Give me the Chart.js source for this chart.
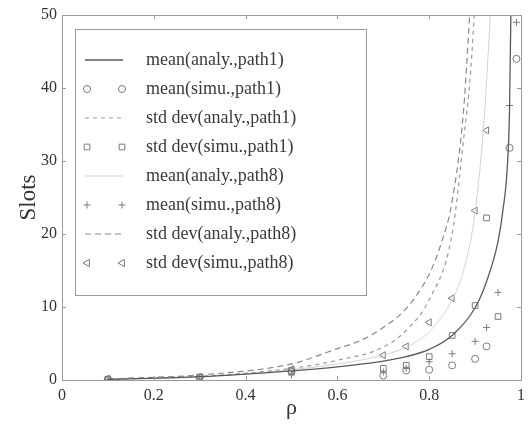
<!DOCTYPE html>
<html>
<head>
<meta charset="utf-8">
<script src="https://cdn.jsdelivr.net/npm/chart.js@4.4.1/dist/chart.umd.min.js"></script>
<style>
  html, body { margin: 0; padding: 0; background: #fff; }
  #wrap { width: 531px; height: 430px; }
</style>
</head>
<body>
<div id="wrap"><canvas id="chart" width="531" height="430"></canvas></div>
<script>
// analytic curves (rho -> slots)
const rhoMeanAnaly1 = [0.1, 0.3, 0.5, 0.6, 0.7, 0.75, 0.8, 0.85, 0.9, 0.925, 0.95, 0.96, 0.97, 0.975, 0.98];
const meanAnaly1    = [0.1, 0.45, 1.25, 1.8, 2.6, 3.2, 4.2, 6.1, 9.9, 13.5, 19, 23, 29, 37, 60];

const rhoStdAnaly1 = [0.1, 0.3, 0.5, 0.6, 0.7, 0.75, 0.8, 0.85, 0.875, 0.89, 0.9];
const stdAnaly1    = [0.1, 0.5, 1.6, 2.7, 4.5, 6.8, 11, 20, 33, 42, 52];

const rhoMeanAnaly8 = [0.1, 0.3, 0.5, 0.6, 0.7, 0.75, 0.8, 0.85, 0.875, 0.9, 0.92, 0.935];
const meanAnaly8    = [0.1, 0.4, 1.4, 2.2, 3.4, 4.5, 6.6, 11, 15, 23, 36, 52];

const rhoStdAnaly8 = [0.1, 0.3, 0.5, 0.6, 0.65, 0.7, 0.75, 0.8, 0.825, 0.85, 0.875, 0.89];
const stdAnaly8    = [0.15, 0.7, 2.2, 4.3, 5.4, 7.2, 9.8, 14.5, 18.5, 24.5, 37, 52];

// simulation points
const rhoMeanSim1 = [0.1, 0.3, 0.5, 0.7, 0.75, 0.8, 0.85, 0.9, 0.925, 0.975, 0.99];
const meanSim1    = [0.1, 0.35, 1.1, 0.6, 1.3, 1.4, 2.0, 2.9, 4.6, 31.8, 44];

const rhoStdSim1 = [0.1, 0.3, 0.5, 0.7, 0.75, 0.8, 0.85, 0.9, 0.925, 0.95];
const stdSim1    = [0.1, 0.4, 1.3, 1.6, 2.0, 3.2, 6.1, 10.2, 22.2, 8.7];

const rhoMeanSim8 = [0.1, 0.3, 0.5, 0.7, 0.75, 0.8, 0.85, 0.9, 0.925, 0.95, 0.975, 0.99];
const meanSim8    = [0.1, 0.3, 0.7, 1.1, 1.6, 2.5, 3.6, 5.3, 7.2, 12.0, 37.6, 49];

const rhoStdSim8 = [0.1, 0.3, 0.5, 0.7, 0.75, 0.8, 0.85, 0.9, 0.925];
const stdSim8    = [0.15, 0.45, 1.5, 3.4, 4.6, 7.9, 11.2, 23.2, 34.2];

const xTicks = [0, 0.2, 0.4, 0.6, 0.8, 1];
const yTicks = [0, 10, 20, 30, 40, 50];

const seriesLabels = [
  'mean(analy.,path1)', 'mean(simu.,path1)', 'std dev(analy.,path1)', 'std dev(simu.,path1)',
  'mean(analy.,path8)', 'mean(simu.,path8)', 'std dev(analy.,path8)', 'std dev(simu.,path8)'
];

const SERIF = '"Liberation Serif", "DejaVu Serif", serif';

function pts(xs, ys) {
  return xs.map((x, i) => ({ x, y: ys[i] }));
}

function lineSet(label, xs, ys, color, dash, width) {
  return {
    label, data: pts(xs, ys), showLine: true,
    borderColor: color, borderDash: dash, borderWidth: width,
    pointRadius: 0, pointHoverRadius: 0, fill: false,
    cubicInterpolationMode: 'monotone'
  };
}

function markSet(label, xs, ys, style, rotation, radius) {
  return {
    label, data: pts(xs, ys), showLine: false,
    pointStyle: style, pointRotation: rotation, pointRadius: radius,
    pointBorderColor: '#7a7a7a', pointBackgroundColor: 'rgba(0,0,0,0)',
    pointBorderWidth: 1, pointHoverRadius: radius
  };
}

const datasets = [
  lineSet(seriesLabels[0], rhoMeanAnaly1, meanAnaly1, '#5a5a5a', [], 1.3),
  markSet(seriesLabels[1], rhoMeanSim1, meanSim1, 'circle', 0, 3.5),
  lineSet(seriesLabels[2], rhoStdAnaly1, stdAnaly1, '#9a9a9a', [4, 4], 1.2),
  markSet(seriesLabels[3], rhoStdSim1, stdSim1, 'rect', 0, 4),
  lineSet(seriesLabels[4], rhoMeanAnaly8, meanAnaly8, '#d2d2d2', [], 1),
  markSet(seriesLabels[5], rhoMeanSim8, meanSim8, 'cross', 0, 3.5),
  lineSet(seriesLabels[6], rhoStdAnaly8, stdAnaly8, '#8a8a8a', [6, 4], 1.2),
  markSet(seriesLabels[7], rhoStdSim8, stdSim8, 'triangle', -90, 4)
];

// marker for the legend box
function drawMarker(ctx, style, x, y, r) {
  ctx.beginPath();
  if (style === 'circle') {
    ctx.arc(x, y, r, 0, Math.PI * 2);
  } else if (style === 'rect') {
    const s = r * Math.SQRT1_2;
    ctx.rect(x - s, y - s, s * 2, s * 2);
  } else if (style === 'cross') {
    ctx.moveTo(x - r, y); ctx.lineTo(x + r, y);
    ctx.moveTo(x, y - r); ctx.lineTo(x, y + r);
  } else if (style === 'triangle') {
    ctx.moveTo(x - r, y);
    ctx.lineTo(x + r * 0.6, y - r * 0.9);
    ctx.lineTo(x + r * 0.6, y + r * 0.9);
    ctx.closePath();
  }
  ctx.stroke();
}

const framePlugin = {
  id: 'frame',
  afterDatasetsDraw(chart) {
    const { ctx, chartArea: a, scales } = chart;
    ctx.save();
    ctx.strokeStyle = '#9a9a9a';
    ctx.lineWidth = 1;
    ctx.setLineDash([]);
    ctx.strokeRect(a.left + 0.5, a.top + 0.5, a.right - a.left, a.bottom - a.top);
    ctx.beginPath();
    xTicks.forEach(v => {
      const px = Math.round(scales.x.getPixelForValue(v)) + 0.5;
      ctx.moveTo(px, a.bottom); ctx.lineTo(px, a.bottom - 4);
      ctx.moveTo(px, a.top); ctx.lineTo(px, a.top + 4);
    });
    yTicks.forEach(v => {
      const py = Math.round(scales.y.getPixelForValue(v)) + 0.5;
      ctx.moveTo(a.left, py); ctx.lineTo(a.left + 4, py);
      ctx.moveTo(a.right, py); ctx.lineTo(a.right - 4, py);
    });
    ctx.stroke();
    ctx.restore();
  }
};

const legendPlugin = {
  id: 'boxLegend',
  afterDraw(chart) {
    const { ctx } = chart;
    const box = { left: 75, top: 29, right: 366, bottom: 295 };
    ctx.save();
    ctx.fillStyle = '#fff';
    ctx.fillRect(box.left, box.top, box.right - box.left, box.bottom - box.top);
    ctx.strokeStyle = '#9a9a9a';
    ctx.lineWidth = 1;
    ctx.strokeRect(box.left + 0.5, box.top + 0.5, box.right - box.left, box.bottom - box.top);

    chart.data.datasets.forEach((ds, i) => {
      const y = 60 + i * 29;
      if (ds.showLine) {
        ctx.strokeStyle = ds.borderColor;
        ctx.lineWidth = ds.borderWidth;
        ctx.setLineDash(ds.borderDash || []);
        ctx.beginPath();
        ctx.moveTo(85, y); ctx.lineTo(123, y);
        ctx.stroke();
      } else {
        ctx.strokeStyle = ds.pointBorderColor;
        ctx.lineWidth = 1;
        ctx.setLineDash([]);
        drawMarker(ctx, ds.pointStyle, 87, y, ds.pointRadius);
        drawMarker(ctx, ds.pointStyle, 122, y, ds.pointRadius);
      }
      ctx.setLineDash([]);
      ctx.fillStyle = '#3a3a3a';
      ctx.font = '18px ' + SERIF;
      ctx.textBaseline = 'middle';
      ctx.textAlign = 'left';
      ctx.fillText(ds.label, 146, y);
    });
    ctx.restore();
  }
};

new Chart(document.getElementById('chart'), {
  type: 'scatter',
  data: { datasets },
  options: {
    responsive: false,
    animation: false,
    events: [],
    layout: { padding: { top: 15, right: 8, left: 0, bottom: 0 } },
    plugins: { legend: { display: false }, tooltip: { enabled: false } },
    scales: {
      x: {
        type: 'linear', min: 0, max: 1,
        afterFit: s => { s.height = 50; },
        afterBuildTicks: s => { s.ticks = xTicks.map(v => ({ value: v })); },
        grid: { display: false, drawTicks: false },
        border: { display: false },
        ticks: {
          padding: 6, color: '#333', font: { family: SERIF, size: 16 },
          callback: v => String(Number(v.toFixed(1)))
        },
        title: { display: true, text: 'ρ', color: '#333', font: { family: SERIF, size: 22 }, padding: { top: 0, bottom: 9 } }
      },
      y: {
        type: 'linear', min: 0, max: 50,
        afterFit: s => { s.width = 62; },
        afterBuildTicks: s => { s.ticks = yTicks.map(v => ({ value: v })); },
        grid: { display: false, drawTicks: false },
        border: { display: false },
        ticks: { padding: 5, color: '#333', font: { family: SERIF, size: 16 } },
        title: { display: true, text: 'Slots', color: '#333', font: { family: SERIF, size: 23 }, padding: { top: 15, bottom: 0 } }
      }
    }
  },
  plugins: [framePlugin, legendPlugin]
});
</script>
</body>
</html>
